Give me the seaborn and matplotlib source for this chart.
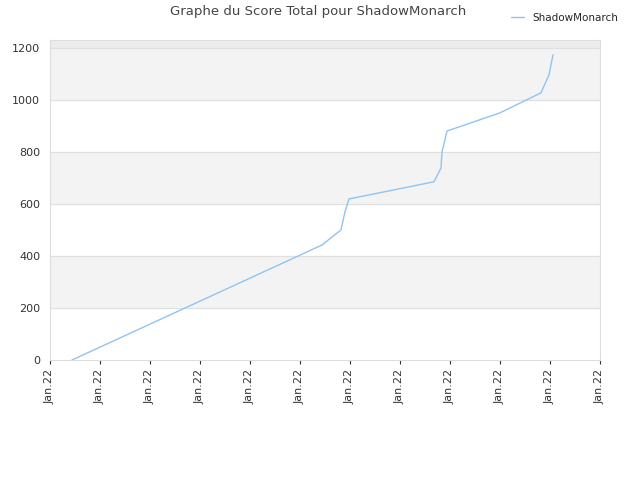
import matplotlib
matplotlib.use("Agg")
import matplotlib.pyplot as plt
import seaborn as sns
import pandas as pd

x_vals = [0.44, 5.44, 5.82, 5.9, 5.98, 7.68, 7.82, 7.84, 7.86, 7.94, 9.0, 9.82, 9.98, 10.06]
scores = [0, 442, 500, 570, 619, 685, 738, 800, 815, 880, 950, 1027, 1096, 1173]
tick_labels = ["Jan.22"] * 12
df = pd.DataFrame({"x": x_vals, "score": scores, "joueur": "ShadowMonarch"})

sns.set_style("white")
fig = plt.figure(figsize=(6.4, 4.8), dpi=100)
ax = fig.add_axes([50/640, 120/480, 550/640, 320/480])
for lo in (200, 600, 1000):
    ax.axhspan(lo, lo + 200, color="#f3f3f3", zorder=0)
ax.axhspan(1200, 1240, color="#ececec", zorder=0)
for yv in range(200, 1201, 200):
    ax.axhline(yv, color="#e0e0e0", lw=0.8, zorder=0.5)
sns.lineplot(data=df, x="x", y="score", hue="joueur", palette=["#90c4f0"], lw=1, ax=ax)
ax.set_xlim(0, 11)
ax.set_ylim(0, 1230)
ax.set_xticks(range(12))
ax.set_xticklabels(tick_labels, rotation=90, fontsize=8, color="#333333")
ax.set_yticks(range(0, 1201, 200))
ax.tick_params(axis="y", labelsize=8, colors="#333333")
ax.tick_params(axis="x", colors="#333333", length=3, bottom=True)
ax.set_xlabel("")
ax.set_ylabel("")
for s in ax.spines.values():
    s.set_color("#dddddd")
fig.text(318/640, 1 - 12/480, "Graphe du Score Total pour ShadowMonarch", ha="center", va="center", fontsize=9.5, color="#444444")
ax.legend(loc="upper right", bbox_to_anchor=(1.05, 1.115), frameon=False, fontsize=7.5, handlelength=1.2)
fig.savefig("out.png", dpi=100)
